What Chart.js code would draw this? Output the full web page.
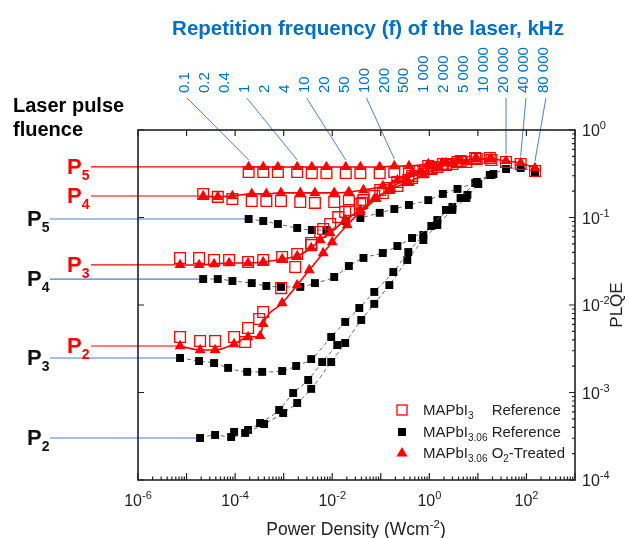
<!DOCTYPE html>
<html>
<head>
<meta charset="utf-8">
<script src="https://cdn.jsdelivr.net/npm/chart.js@4.4.1/dist/chart.umd.min.js"></script>
<style>
  html, body { margin: 0; padding: 0; background: #fff; }
  #wrap { width: 629px; height: 538px; }
</style>
</head>
<body>
<div id="wrap"><canvas id="c" width="629" height="538"></canvas></div>
<script>
// ── Data ───────────────────────────────────────────────
const freqLabels = ['0.1', '0.2', '0.4', '1', '2', '4', '10', '20', '50', '100', '200', '500',
  '1 000', '2 000', '5 000', '10 000', '20 000', '40 000', '80 000'];
const leaderIdx = [0, 3, 6, 9, 16, 17, 18];   // labels that have a leader line to the P5 curve

// P5 fluence (same power densities for all three samples)
const xP5 = [1.9e-4, 3.8e-4, 7.6e-4, 1.9e-3, 3.8e-3, 7.6e-3, 0.019, 0.038, 0.095, 0.19, 0.38, 0.95, 1.9, 3.8, 9.5, 19, 38, 76, 150];
const refP5 = [0.331, 0.331, 0.331, 0.331, 0.323, 0.323, 0.323, 0.323, 0.323, 0.331, 0.340, 0.388, 0.409, 0.431, 0.466, 0.454, 0.431, 0.409, 0.340];
const o2P5 = [0.378, 0.378, 0.378, 0.378, 0.378, 0.378, 0.378, 0.378, 0.378, 0.388, 0.388, 0.409, 0.420, 0.443, 0.466, 0.466, 0.443, 0.420, 0.368];
const b306P5 = [0.0961, 0.0912, 0.0843, 0.0759, 0.0720, 0.0720, 0.0912, 0.0987, 0.113, 0.125, 0.139, 0.158, 0.186, 0.212, 0.255, 0.306, 0.358, 0.368, 0.331];

// P4 fluence
const xP4 = [2.2e-5, 4.4e-5, 8.8e-5, 2.2e-4, 4.4e-4, 8.8e-4, 2.2e-3, 4.4e-3, 0.011, 0.022, 0.044, 0.11, 0.22, 0.44, 1.1, 2.2, 4.4, 8.8, 17.6];
const refP4 = [0.186, 0.172, 0.163, 0.154, 0.154, 0.154, 0.150, 0.147, 0.150, 0.154, 0.158, 0.191, 0.229, 0.283, 0.358, 0.398, 0.443, 0.479, 0.479];
const o2P4 = [0.176, 0.172, 0.176, 0.186, 0.186, 0.191, 0.191, 0.191, 0.191, 0.196, 0.206, 0.229, 0.268, 0.323, 0.388, 0.420, 0.443, 0.466, 0.466];
const b306P4 = [0.0198, 0.0198, 0.0188, 0.0178, 0.0165, 0.0161, 0.0161, 0.0178, 0.0209, 0.0279, 0.0345, 0.0393, 0.0472, 0.0583, 0.0800, 0.122, 0.167, 0.248, 0.306];

// P3 fluence
const xP3red = [7.35e-6, 1.81e-5, 3.69e-5, 7.52e-5, 1.85e-4, 3.78e-4, 9.31e-4, 1.90e-3, 3.69e-3, 5.66e-3, 9.10e-3, 0.0185, 0.0378, 0.0735, 0.150, 0.369, 0.752, 1.46, 2.98, 5.79];
const refP3 = [0.0345, 0.0345, 0.0327, 0.0327, 0.0310, 0.0327, 0.0354, 0.0383, 0.0511, 0.0683, 0.0843, 0.116, 0.143, 0.176, 0.217, 0.268, 0.331, 0.378, 0.409, 0.431];
const o2P3 = [0.0287, 0.0287, 0.0294, 0.0302, 0.0302, 0.0310, 0.0336, 0.0363, 0.0448, 0.0553, 0.0665, 0.0936, 0.122, 0.163, 0.206, 0.255, 0.306, 0.368, 0.409, 0.431];
const xP3blk = [7.35e-6, 1.81e-5, 3.69e-5, 7.18e-5, 1.77e-4, 3.61e-4, 9.31e-4, 1.81e-3, 3.69e-3, 9.53e-3, 0.0185, 0.0361, 0.0735, 0.181, 0.369, 0.752, 1.46, 2.98, 6.08];
const b306P3 = [0.00248, 0.00229, 0.00217, 0.00191, 0.00172, 0.00172, 0.00176, 0.00201, 0.00241, 0.00431, 0.00640, 0.00924, 0.0141, 0.0238, 0.0403, 0.0631, 0.0936, 0.132, 0.181];

// P2 fluence
const xP2ref = [7.35e-6, 1.90e-5, 3.87e-5, 9.53e-5, 1.61e-4, 1.85e-4, 3.13e-4, 3.78e-4, 8.87e-4, 1.73e-3, 3.69e-3, 6.52e-3, 0.0133, 0.0224, 0.0416, 0.0977, 0.219, 0.445, 1.10, 2.24];
const refP2 = [0.00431, 0.00388, 0.00388, 0.00431, 0.00378, 0.00546, 0.00692, 0.00832, 0.0156, 0.0272, 0.0485, 0.0739, 0.101, 0.122, 0.147, 0.206, 0.255, 0.298, 0.368, 0.409];
const xP2o2 = [7.35e-6, 1.90e-5, 3.87e-5, 9.53e-5, 1.85e-4, 3.27e-4, 3.78e-4, 9.31e-4, 1.90e-3, 3.36e-3, 6.52e-3, 0.0100, 0.0204, 0.0378, 0.0807, 0.157, 0.320, 0.652, 1.46, 2.98];
const o2P2 = [0.00340, 0.00306, 0.00306, 0.00358, 0.00431, 0.00443, 0.00607, 0.0105, 0.0169, 0.0251, 0.0393, 0.0525, 0.0821, 0.116, 0.163, 0.217, 0.268, 0.331, 0.378, 0.420];
const xP2a = [1.90e-5, 3.87e-5, 8.28e-5, 1.61e-4, 3.96e-4, 9.77e-4, 1.90e-3, 3.69e-3, 9.53e-3, 0.0185, 0.0396, 0.0735, 0.150, 0.352, 0.752, 1.46, 2.98, 5.79, 10.2, 20.9];
const b306P2a = [0.000302, 0.000327, 0.000310, 0.000345, 0.000437, 0.000583, 0.000759, 0.00110, 0.00223, 0.00368, 0.00674, 0.0103, 0.0169, 0.0327, 0.0553, 0.0821, 0.122, 0.167, 0.241, 0.314];
const xP2b = [9.53e-5, 1.85e-4, 3.27e-4, 8.07e-4, 1.57e-3, 3.20e-3, 6.22e-3, 0.0127];
const b306P2b = [0.000354, 0.000373, 0.000448, 0.000631, 0.000987, 0.00139, 0.00223, 0.00349];

// ── Styles ─────────────────────────────────────────────
const RED = '#ff0000';
const BLUE = '#0070c0';
const LINE_BLUE = '#4a7fd4';
const INK = '#222';
const FONT = "'Liberation Sans', Arial, sans-serif";

function series(xs, ys) { return xs.map((x, i) => ({ x, y: ys[i] })); }

function o2Set(xs, ys) {
  return {
    data: series(xs, ys), showLine: true, borderColor: RED, borderWidth: 1.6,
    cubicInterpolationMode: 'monotone', pointStyle: 'triangle', pointRadius: 6.3,
    pointBackgroundColor: RED, pointBorderColor: RED, pointBorderWidth: 0,
  };
}
function refSet(xs, ys) {
  return {
    data: series(xs, ys), showLine: false, pointStyle: 'rect', pointRadius: 7.6,
    pointBackgroundColor: 'rgba(0,0,0,0)', pointBorderColor: RED, pointBorderWidth: 1.3,
  };
}
function blkSet(xs, ys) {
  return {
    data: series(xs, ys), showLine: true, borderColor: '#666', borderWidth: 1, borderDash: [4, 3],
    cubicInterpolationMode: 'monotone', pointStyle: 'rect', pointRadius: 5.6,
    pointBackgroundColor: '#000', pointBorderColor: '#000', pointBorderWidth: 0,
  };
}

// label, colour, first point of the curve the fluence line runs into
const fluence = [
  { n: '5', red: true, xs: xP5, ys: o2P5 },
  { n: '4', red: true, xs: xP4, ys: o2P4 },
  { n: '3', red: true, xs: xP3red, ys: o2P3 },
  { n: '2', red: true, xs: xP2o2, ys: o2P2 },
  { n: '5', red: false, xs: xP5, ys: b306P5 },
  { n: '4', red: false, xs: xP4, ys: b306P4 },
  { n: '3', red: false, xs: xP3blk, ys: b306P3 },
  { n: '2', red: false, xs: xP2a, ys: b306P2a },
];

// ── Text helpers ───────────────────────────────────────
function rich(ctx, parts, x, y, align = 'left') {
  let w = 0;
  parts.forEach(p => { ctx.font = p.f; p.w = ctx.measureText(p.t).width; w += p.w; });
  let cx = align === 'center' ? x - w / 2 : align === 'right' ? x - w : x;
  parts.forEach(p => { ctx.font = p.f; ctx.fillText(p.t, cx, y + (p.dy || 0)); cx += p.w; });
  return w;
}
const f = (s, bold) => `${bold ? 'bold ' : ''}${s}px ${FONT}`;

// ── Decorations drawn through the chart scales ─────────
const decor = {
  id: 'decor',
  beforeDatasetsDraw(chart) {
    const { ctx, scales: { x, y } } = chart;
    ctx.save();
    ctx.lineWidth = 1.2;
    fluence.forEach(l => {
      const px = x.getPixelForValue(l.xs[0]), py = y.getPixelForValue(l.ys[0]);
      ctx.strokeStyle = l.red ? RED : LINE_BLUE;
      ctx.beginPath(); ctx.moveTo(l.red ? 91 : 50, py); ctx.lineTo(px, py); ctx.stroke();
    });
    ctx.strokeStyle = LINE_BLUE;
    ctx.lineWidth = 1;
    leaderIdx.forEach(i => {
      const lx = 185 + i * 19.94;
      const px = x.getPixelForValue(xP5[i]), py = y.getPixelForValue(o2P5[i]);
      ctx.beginPath(); ctx.moveTo(lx + 2, 98); ctx.lineTo(px, py - 7); ctx.stroke();
    });
    ctx.restore();
  },
  afterDraw(chart) {
    const { ctx, chartArea: a, scales: { x, y } } = chart;
    ctx.save();
    // frame
    ctx.strokeStyle = INK;
    ctx.lineWidth = 1.6;
    ctx.strokeRect(a.left, a.top, a.right - a.left, a.bottom - a.top);
    // ticks
    ctx.lineWidth = 1.2;
    ctx.beginPath();
    for (let e = -6; e <= 3; e++) {
      const px = x.getPixelForValue(10 ** e);
      ctx.moveTo(px, a.bottom); ctx.lineTo(px, a.bottom - 7);
      ctx.moveTo(px, a.top); ctx.lineTo(px, a.top + 6);
      if (e < 3) for (let m = 2; m <= 9; m++) {
        const mx = x.getPixelForValue(m * 10 ** e);
        ctx.moveTo(mx, a.bottom); ctx.lineTo(mx, a.bottom - 3.5);
      }
    }
    for (let e = -4; e <= 0; e++) {
      const py = y.getPixelForValue(10 ** e);
      ctx.moveTo(a.right, py); ctx.lineTo(a.right - 6, py);
      ctx.moveTo(a.left, py); ctx.lineTo(a.left + 6, py);
      if (e < 0) for (let m = 2; m <= 9; m++) {
        const my = y.getPixelForValue(m * 10 ** e);
        ctx.moveTo(a.right, my); ctx.lineTo(a.right - 3, my);
      }
    }
    ctx.stroke();

    // tick labels
    ctx.fillStyle = INK;
    ctx.textBaseline = 'alphabetic';
    ctx.textAlign = 'left';
    [-6, -4, -2, 0, 2].forEach(e => {
      rich(ctx, [{ t: '10', f: f(16) }, { t: String(e), f: f(11), dy: -7 }], x.getPixelForValue(10 ** e), 506, 'center');
    });
    for (let e = -4; e <= 0; e++) {
      rich(ctx, [{ t: '10', f: f(16) }, { t: String(e), f: f(11), dy: -7 }], 582, y.getPixelForValue(10 ** e) + 6);
    }
    // axis titles
    rich(ctx, [{ t: 'Power Density (Wcm', f: f(17.5) }, { t: '-2', f: f(11.5), dy: -7 }, { t: ')', f: f(17.5) }], 356, 535, 'center');
    ctx.save();
    ctx.translate(617, 305);
    ctx.rotate(-Math.PI / 2);
    ctx.textAlign = 'center';
    ctx.textBaseline = 'middle';
    ctx.font = f(17);
    ctx.fillText('PLQE', 0, 0);
    ctx.restore();

    // legend
    const lx = 402, tx = 423, rows = [410, 432, 453];
    ctx.strokeStyle = RED; ctx.lineWidth = 1.3;
    ctx.strokeRect(lx - 5, rows[0] - 5, 10, 10);
    ctx.fillStyle = '#000';
    ctx.fillRect(lx - 4, rows[1] - 4, 8, 8);
    ctx.fillStyle = RED;
    ctx.beginPath(); ctx.moveTo(lx, rows[2] - 6); ctx.lineTo(lx + 5.5, rows[2] + 3.5); ctx.lineTo(lx - 5.5, rows[2] + 3.5); ctx.closePath(); ctx.fill();
    ctx.fillStyle = INK;
    ctx.textAlign = 'left';
    const wHead = rich(ctx, [{ t: 'MAPbI', f: f(15) }, { t: '3.06', f: f(10), dy: 4 }, { t: ' ', f: f(15) }], tx, rows[1] + 5);
    rich(ctx, [{ t: 'Reference', f: f(15) }], tx + wHead, rows[1] + 5);
    rich(ctx, [{ t: 'MAPbI', f: f(15) }, { t: '3', f: f(10), dy: 4 }], tx, rows[0] + 5);
    rich(ctx, [{ t: 'Reference', f: f(15) }], tx + wHead, rows[0] + 5);
    rich(ctx, [{ t: 'MAPbI', f: f(15) }, { t: '3.06', f: f(10), dy: 4 }, { t: ' O', f: f(15) },
      { t: '2', f: f(10), dy: 4 }, { t: '-Treated', f: f(15) }], tx, rows[2] + 5);

    // title and repetition-frequency labels
    ctx.fillStyle = BLUE;
    ctx.textAlign = 'center';
    ctx.font = f(20.5, true);
    ctx.fillText('Repetition frequency (f) of the laser, kHz', 368, 35);
    ctx.font = f(15);
    ctx.textAlign = 'left';
    ctx.textBaseline = 'middle';
    freqLabels.forEach((t, i) => {
      ctx.save();
      ctx.translate(185 + i * 19.94, 93);
      ctx.rotate(-Math.PI / 2);
      ctx.fillText(t, 0, 0);
      ctx.restore();
    });

    // fluence labels
    ctx.textBaseline = 'alphabetic';
    ctx.fillStyle = '#000';
    ctx.font = f(20, true);
    ctx.fillText('Laser pulse', 13, 112);
    ctx.fillText('fluence', 13, 136);
    fluence.forEach(l => {
      const py = y.getPixelForValue(l.ys[0]);
      ctx.fillStyle = l.red ? RED : '#111';
      rich(ctx, [{ t: 'P', f: f(22, true) }, { t: l.n, f: f(14, true), dy: 6 }], l.red ? 67 : 27, py + 7);
    });
    ctx.restore();
  },
};

// ── Chart ──────────────────────────────────────────────
new Chart(document.getElementById('c'), {
  type: 'scatter',
  data: {
    datasets: [
      o2Set(xP5, o2P5), o2Set(xP4, o2P4), o2Set(xP3red, o2P3), o2Set(xP2o2, o2P2),
      refSet(xP5, refP5), refSet(xP4, refP4), refSet(xP3red, refP3), refSet(xP2ref, refP2),
      blkSet(xP5, b306P5), blkSet(xP4, b306P4), blkSet(xP3blk, b306P3),
      blkSet(xP2a, b306P2a), blkSet(xP2b, b306P2b),
    ],
  },
  options: {
    responsive: false,
    animation: false,
    layout: { padding: { left: 138, top: 130, right: 54, bottom: 58 } },
    plugins: { legend: { display: false }, tooltip: { enabled: false } },
    scales: {
      x: {
        type: 'logarithmic', min: 1e-6, max: 1e3,
        ticks: { display: false }, grid: { display: false }, border: { display: false },
        afterFit: s => { s.height = 0; },
      },
      y: {
        type: 'logarithmic', position: 'right', min: 1e-4, max: 1,
        ticks: { display: false }, grid: { display: false }, border: { display: false },
        afterFit: s => { s.width = 0; },
      },
    },
  },
  plugins: [decor],
});
</script>
</body>
</html>
